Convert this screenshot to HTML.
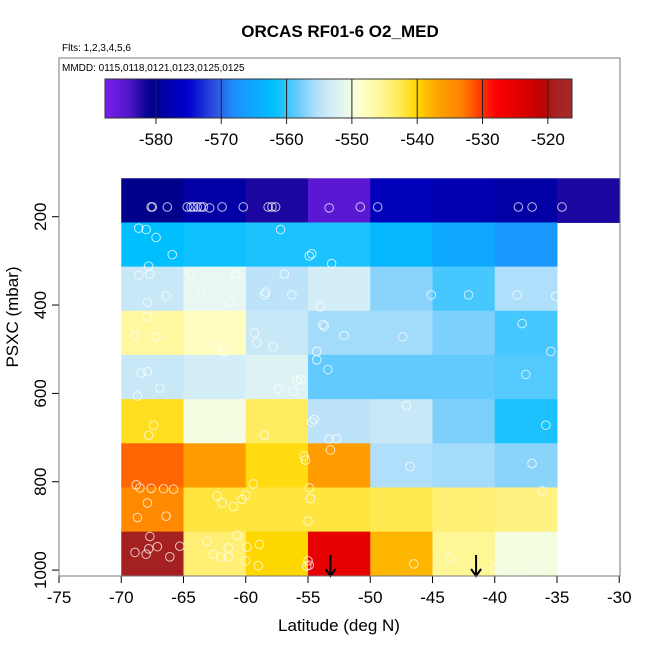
<!DOCTYPE html>
<html><head><meta charset="utf-8"><style>
body{margin:0;background:#fff;}
svg{display:block;font-family:"Liberation Sans",sans-serif;}
</style></head><body>
<svg id="chart" width="650" height="650" viewBox="0 0 650 650">
<defs>
<linearGradient id="cbgrad" x1="0" x2="1" y1="0" y2="0"></linearGradient>
</defs>
<text x="340" y="37" text-anchor="middle" font-size="17" font-weight="bold">ORCAS RF01-6 O2_MED</text>
<text x="62" y="51" font-size="10">Flts: 1,2,3,4,5,6</text>
<g id="cells"></g>
<g id="points"></g>
<g id="axes"></g>
<rect x="59" y="58" width="561" height="518" fill="none" stroke="#777" stroke-width="1"/>
<text x="62" y="71" font-size="10">MMDD: 0115,0118,0121,0123,0125,0125</text>
<g id="colorbar"></g>
<text x="339" y="631" text-anchor="middle" font-size="17">Latitude (deg N)</text>
<text transform="translate(18,317) rotate(-90)" text-anchor="middle" font-size="17">PSXC (mbar)</text>
</svg>
<script>
const latEdges = [-70,-65,-60,-55,-50,-45,-40,-35,-30];
const presEdges = [113,213,313,413,513,613,713,813,913,1013];
// values per row (top to bottom), per column (west to east); null = no data
const row0 = [-581,-579,-582,-585,-577,-578,-579,-582];
const row1 = [-562,-561.5,-561,-561,-563,-565,-567,null];
const row2 = [-554,-551,-555,-553,-557,-559.5,-555.5,null];
const row3 = [-546,-548,-554,-556,-556,-557.5,-559.5,null];
const row4 = [-554,-553,-552,-558.5,-558.5,-558.5,-559,null];
const row5 = [-541,-550,-543,-555,-554,-557.5,-561,null];
const row6 = [-532,-536,-540.5,-536,-555.5,-556,-557,null];
const row7 = [-534,-542,-542,-542,-542.5,-544,-544.5,null];
const row8 = [-519,-544,-540,-525,-538,-545.5,-550,null];
const ptLat = [-67.6,-67.5,-66.3,-64.7,-64.4,-64.2,-63.9,-63.6,-63.4,-62.9,-61.9,-60.2,-58.2,-57.9,-57.6,-53.3,-50.8,-49.4,-38.1,-37.0,-34.6,
-68.6,-68.0,-67.2,-65.9,-67.8,-68.6,-67.7,-57.2,-54.9,-54.7,-53.1,-64.4,-60.8,-63.6,-61.3,-66.4,-67.9,-58.4,-58.5,-56.3,-56.9,-54.0,-45.1,-42.1,-38.2,-35.1,
-67.9,-68.9,-67.2,-62.3,-61.7,-59.3,-59.1,-57.8,-53.8,-53.7,-52.1,-47.4,-37.8,-35.5,-54.3,-54.3,-53.4,-68.4,-67.9,-66.9,-68.7,-57.4,-56.2,-55.9,-55.6,-37.5,
-67.4,-67.8,-60.6,-58.5,-47.1,-54.7,-54.5,-53.3,-52.7,-53.2,-35.9,-55.3,-55.2,-46.8,-37.0,-68.8,-68.5,-67.6,-66.6,-65.8,-59.4,-67.9,-68.7,-66.4,-62.3,-61.9,-61.0,-60.3,-60.0,-54.9,-54.8,-55.0,-36.2,
-67.7,-68.9,-68.0,-67.8,-67.1,-66.1,-65.3,-63.1,-62.6,-62.0,-61.4,-61.4,-60.7,-59.9,-60.0,-58.9,-59.0,-55.0,-55.1,-54.9,-46.5,-43.6,-40.0,-36.6];
const ptPres = [178,178,178,178,178,178,178,178,178,180,178,178,178,178,178,180,178,178,178,178,178,
226,229,247,286,312,332,330,229,289,284,306,330,330,377,393,379,394,371,377,377,330,404,377,377,377,380,
426,469,472,493,505,463,485,494,444,448,469,472,442,505,505,524,546,554,551,588,606,590,595,571,568,557,
672,695,700,695,628,665,659,703,703,728,672,742,751,766,759,807,814,815,816,817,805,848,881,878,832,848,856,840,830,814,838,889,821,
924,960,964,952,947,970,946,935,964,971,970,950,921,948,979,942,990,979,991,989,986,973,995,995];
const arrowLat = [-53.2,-41.5];
const cbTicks = [-580,-570,-560,-550,-540,-530,-520];
const cbMin = -587.8, cbMax = -516.3;
const cmapVals = [-588,-584,-581,-578,-575,-571,-568,-562,-558,-555,-551,-549,-546,-543,-540,-537,-533,-530,-528,-524,-521,-519,-516];
const cmapCols = ["#7b20f0","#5015c8","#00008b","#0000b0","#0000d0","#3050e0","#1e90ff","#00bfff","#70ccfc","#bde3fb","#e8f8f0","#ffffd0","#fff8a0","#ffec60","#ffd700","#ffa500","#ff7f00","#ff3000","#ff0000","#dd0000","#c00000","#a52020","#a52a2a"];
const xTicks = [-75,-70,-65,-60,-55,-50,-45,-40,-35,-30];
const yTicks = [200,400,600,800,1000];

const NS="http://www.w3.org/2000/svg";
const X = v => 59 + (v + 75) * 12.45;
const Y = p => 216.7 + (p - 200) * 0.4417;
function mk(tag, attrs, parent){const e=document.createElementNS(NS,tag);for(const k in attrs)e.setAttribute(k,attrs[k]);parent.appendChild(e);return e;}
function hex(h){return [1,3,5].map(i=>parseInt(h.substr(i,2),16));}
function color(v){
  if(v<=cmapVals[0])return cmapCols[0];
  for(let i=1;i<cmapVals.length;i++){
    if(v<=cmapVals[i]){const t=(v-cmapVals[i-1])/(cmapVals[i]-cmapVals[i-1]);const a=hex(cmapCols[i-1]),b=hex(cmapCols[i]);
      return "rgb("+a.map((c,j)=>Math.round(c+(b[j]-c)*t)).join(",")+")";}
  }
  return cmapCols[cmapCols.length-1];
}
const rows=[row0,row1,row2,row3,row4,row5,row6,row7,row8];
const cellsG=document.getElementById('cells');
rows.forEach((row,r)=>row.forEach((v,c)=>{
  if(v===null)return;
  const x0=X(latEdges[c]),x1=X(latEdges[c+1]),y0=Y(presEdges[r]),y1=Y(presEdges[r+1]);
  const e=mk('rect',{x:x0,y:y0,width:x1-x0+0.5,height:y1-y0+0.5,fill:color(v)},cellsG);
  
  
}));
const ptsG=document.getElementById('points');
ptLat.forEach((la,i)=>{
  const e=mk('circle',{cx:X(la),cy:Y(ptPres[i]),r:4.3,fill:'none',stroke:'rgba(255,255,255,0.75)','stroke-width':1},ptsG);
  
  
});
const ax=document.getElementById('axes');
arrowLat.forEach(la=>{
  const g=mk('g',{},ax);
  
  
  const x=X(la);
  mk('line',{x1:x,y1:555,x2:x,y2:576,stroke:'#000','stroke-width':2},g);
  mk('polyline',{points:(x-5)+",569 "+x+",576 "+(x+5)+",569",fill:'none',stroke:'#000','stroke-width':2},g);
});
mk('line',{x1:59,y1:576,x2:620,y2:576,stroke:'#000'},ax);
xTicks.forEach(t=>{
  mk('line',{x1:X(t),y1:576,x2:X(t),y2:583,stroke:'#000'},ax);
  const e=mk('text',{x:X(t),y:603,'text-anchor':'middle','font-size':17},ax);
  e.textContent=t;
  
  
});
yTicks.forEach(t=>{
  mk('line',{x1:52,y1:Y(t),x2:59,y2:Y(t),stroke:'#000'},ax);
  const e=mk('text',{transform:"translate(46,"+Y(t)+") rotate(-90)",'text-anchor':'middle','font-size':17},ax);
  e.textContent=t;
  
  
});
// colorbar
const cb=document.getElementById('colorbar');
const CBX0=105,CBX1=572,CBY0=79,CBY1=118;
const CX=v=>CBX0+(v-cbMin)/(cbMax-cbMin)*(CBX1-CBX0);
const grad=document.getElementById('cbgrad');
for(let i=0;i<=80;i++){const v=cbMin+(cbMax-cbMin)*i/80;mk('stop',{offset:(i/80),'stop-color':color(v)},grad);}
mk('rect',{x:CBX0,y:CBY0,width:CBX1-CBX0,height:CBY1-CBY0,fill:'url(#cbgrad)',stroke:'#333'},cb);
cbTicks.forEach(t=>{
  mk('line',{x1:CX(t),y1:CBY0,x2:CX(t),y2:CBY1+6,stroke:'#222'},cb);
  const e=mk('text',{x:CX(t),y:145,'text-anchor':'middle','font-size':17},cb);
  e.textContent=t;
  
  
});
</script>
</body></html>
